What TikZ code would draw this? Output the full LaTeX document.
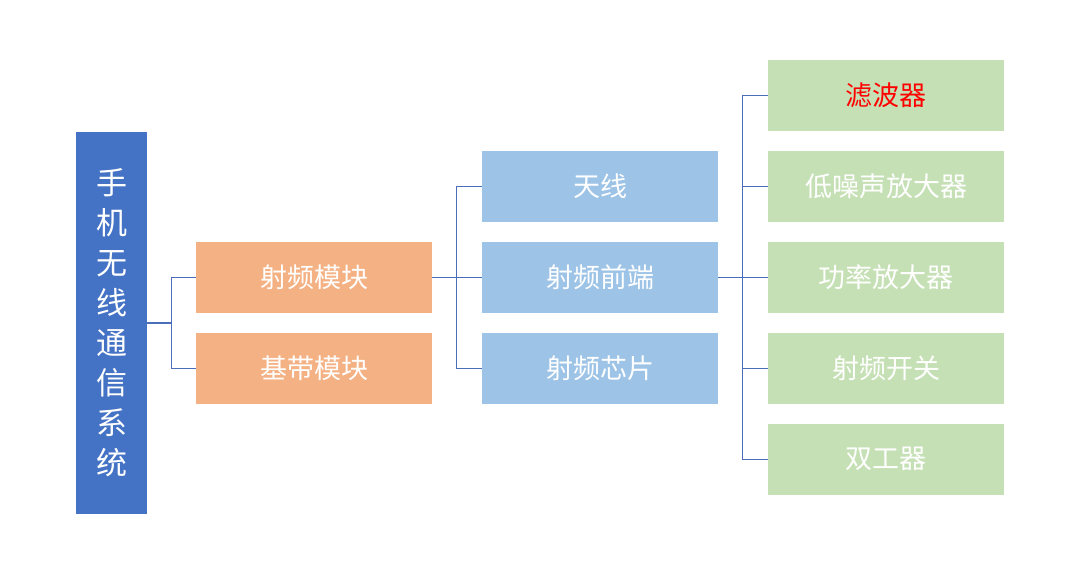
\documentclass[tikz,border=0pt]{standalone}
\usepackage{fontspec}
\setmainfont{Noto Sans CJK SC}
\usepackage{tikz}
\usetikzlibrary{positioning}

\definecolor{rootblue}{HTML}{4472C4}
\definecolor{lineblue}{HTML}{4A6EBA}
\definecolor{boxorange}{HTML}{F4B183}
\definecolor{boxblue}{HTML}{9DC3E6}
\definecolor{boxgreen}{HTML}{C5E0B4}

\tikzset{
    box/.style={minimum width=236pt, minimum height=70.5pt, inner sep=0pt,
        text=white, font=\fontsize{27}{30}\selectfont},
    conn/.style={draw=lineblue, line width=1.5pt},
}

\begin{document}
\begin{tikzpicture}[x=1pt, y=-1pt]
        \def\gap{24.5}
        \useasboundingbox (0,0) rectangle (1080,570);

        % root
        \node[fill=rootblue, minimum width=71pt, minimum height=382pt, inner sep=0pt,
            text=white, align=center, font=\fontsize{31}{40}\selectfont] (root) at (111.5,323)
            {手\\机\\无\\线\\通\\信\\系\\统};

        % level 1
        \node[box, fill=boxorange] (rf) at (314,277.5) {射频模块};
        \node[box, fill=boxorange, below=20pt of rf] (bb) {基带模块};

        % level 2
        \node[box, fill=boxblue] (fe) at (600,277.5) {射频前端};
        \node[box, fill=boxblue, above=20pt of fe] (ant) {天线};
        \node[box, fill=boxblue, below=20pt of fe] (chip) {射频芯片};

        % level 3
        \node[box, fill=boxgreen] (pa) at (886,277.5) {功率放大器};
        \node[box, fill=boxgreen, above=20pt of pa] (lna) {低噪声放大器};
        \node[box, fill=boxgreen, above=20pt of lna, text=red] (flt) {滤波器};
        \node[box, fill=boxgreen, below=20pt of pa] (sw) {射频开关};
        \node[box, fill=boxgreen, below=20pt of sw] (dup) {双工器};

        \draw[conn] (root.east) -- +(\gap,0) coordinate (j1);
        \draw[conn] (j1) |- (rf.west);
        \draw[conn] (j1) |- (bb.west);

        \draw[conn] (rf.east) -- +(\gap,0) coordinate (j2);
        \draw[conn] (j2) |- (ant.west);
        \draw[conn] (j2) -- (fe.west);
        \draw[conn] (j2) |- (chip.west);

        \draw[conn] (fe.east) -- +(\gap,0) coordinate (j3);
        \foreach \n in {flt,lna,pa,sw,dup}
            \draw[conn] (j3) |- (\n.west);
\end{tikzpicture}
\end{document}
